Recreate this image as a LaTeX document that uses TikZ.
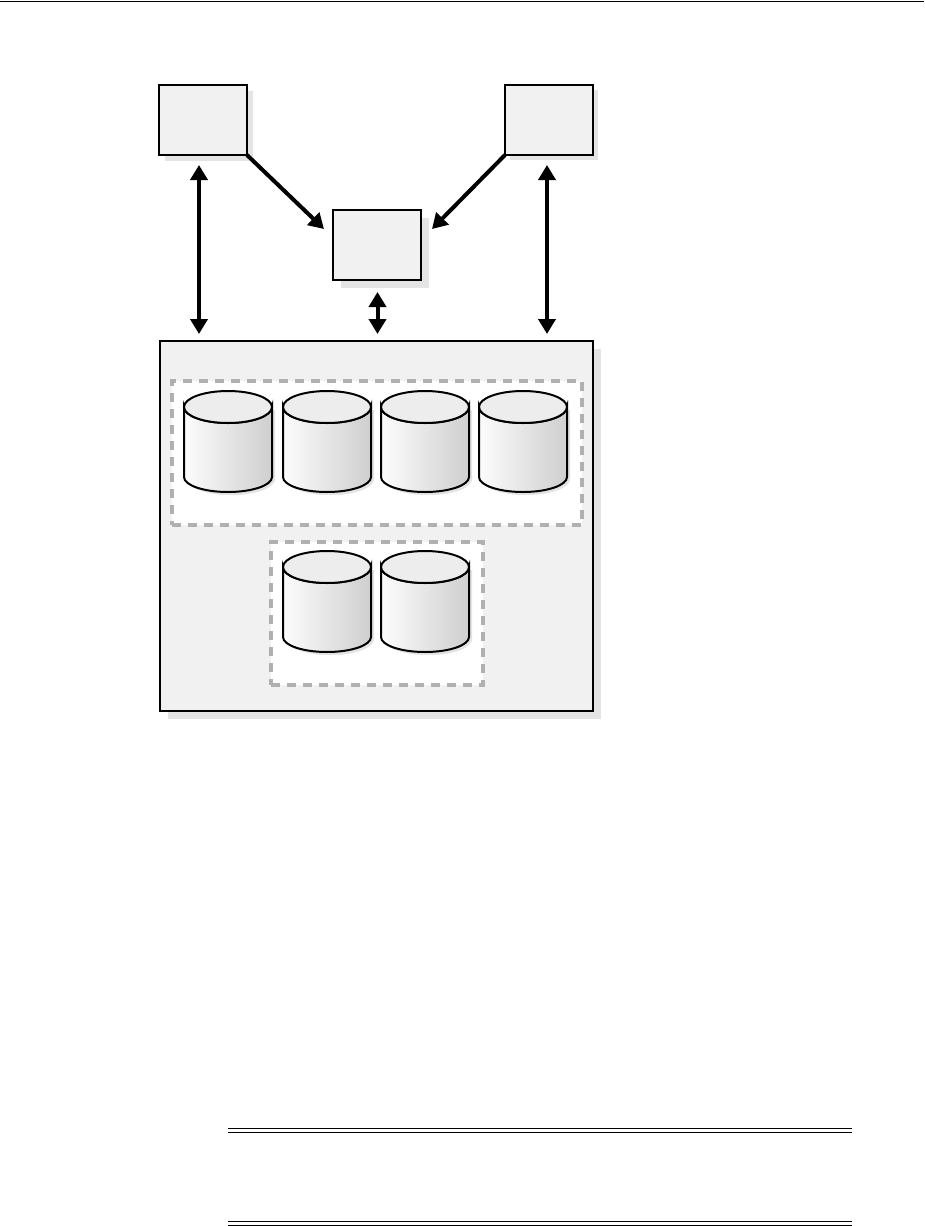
\documentclass[tikz,border=0pt]{standalone}
\usetikzlibrary{arrows.meta,shadows}
\definecolor{panelgray}{HTML}{F1F1F1}
\definecolor{shadegray}{HTML}{E4E4E4}
\definecolor{dashgray}{HTML}{B0B0B0}
\tikzset{
  hostbox/.style={draw,line width=2pt,fill=panelgray,minimum width=88pt,minimum height=70pt,inner sep=0pt,outer sep=0pt},
  flow/.style={line width=4pt,-{Triangle[length=15pt,width=17pt]}},
  dflow/.style={line width=4pt,{Triangle[length=15pt,width=17pt]}-{Triangle[length=15pt,width=17pt]}},
  disk/.pic={
    \fill[shadegray] (-41,3) -- (47,3) -- (47,72) arc (0:180:44 and 16) -- cycle;
    \fill[shadegray] (-41,72) arc (180:0:44 and 16) -- cycle;
    \draw[line width=2pt,left color=black!1,middle color=black!7,right color=black!19] (-44,0) -- (-44,70) arc (180:0:44 and 15) -- (44,0) arc (0:180:44 and 16) -- cycle;
    \draw[line width=2pt,fill=black!7] (0,0) ellipse (44 and 16);
  },
  tier/.style={draw=dashgray,line width=4pt,dash pattern=on 9pt off 7pt,fill=white,inner sep=0pt,outer sep=0pt},
  rulepair/.style={line width=1pt}
}
\begin{document}
\begin{tikzpicture}[x=1pt,y=-1pt]
  \useasboundingbox (0,0) rectangle (924,1226);
  \draw[rulepair] (0,1) -- (924,1);
  \node[hostbox,general shadow={shadow xshift=6pt,shadow yshift=-6pt,fill=shadegray}] (hostA) at (203,120) {};
  \node[hostbox,general shadow={shadow xshift=5pt,shadow yshift=-5pt,fill=shadegray}] (hostB) at (549,120) {};
  \node[hostbox,general shadow={shadow xshift=8pt,shadow yshift=-8pt,fill=shadegray}] (hub) at (377,245) {};
  \node[hostbox,minimum width=433pt,minimum height=370pt,general shadow={shadow xshift=8pt,shadow yshift=-8pt,fill=shadegray}] (storage) at (376.5,526) {};
  \node[tier,minimum width=410pt,minimum height=144pt] (tierA) at (377,453) {};
  \node[tier,minimum width=212pt,minimum height=143pt] (tierB) at (376.5,613.5) {};
  \foreach \x/\n in {228/a,327/b,425/c,523/d}
    \pic (disk\n) at (\x,407) {disk};
  \foreach \x/\n in {327/e,425/f}
    \pic (disk\n) at (\x,567) {disk};
  \coordinate (portA) at (199,334);
  \coordinate (portB) at (547,334);
  \coordinate (portC) at (377.5,334);
  \coordinate (hubA) at (324,229);
  \coordinate (hubB) at (432,229);
  \draw[flow] (hostA.south east) -- (hubA);
  \draw[flow] (hostB.south west) -- (hubB);
  \draw[dflow] (199,165) -- (portA);
  \draw[dflow] (547,165) -- (portB);
  \draw[dflow] (377.5,292) -- (portC);
  \draw[rulepair] (228,1128.5) -- (852,1128.5);
  \draw[rulepair] (228,1132.5) -- (852,1132.5);
  \draw[rulepair] (228,1221.5) -- (852,1221.5);
  \draw[rulepair] (228,1225.5) -- (852,1225.5);
\end{tikzpicture}
\end{document}
